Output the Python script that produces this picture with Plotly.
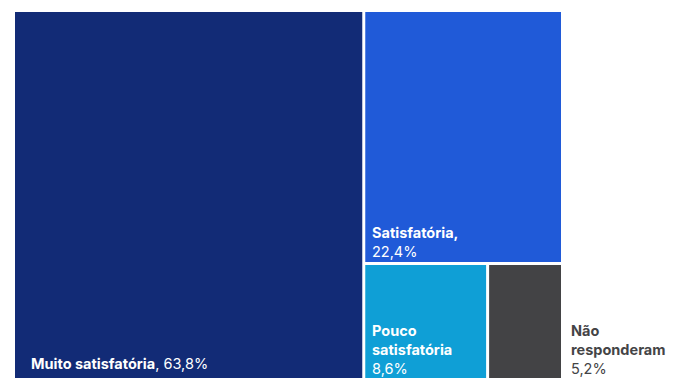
import plotly.graph_objects as go

# Satisfação — participação de cada resposta (%)
categorias = ["Muito satisfatória", "Satisfatória", "Pouco satisfatória", "Não responderam"]
percentuais = [63.8, 22.4, 8.6, 5.2]
cores = ["#122B76", "#205AD8", "#0F9FD6", "#434345"]

# Canvas: the treemap runs past the bottom edge of the visible page
W, H = 675, 420
ML, MR, MT, MB = 15, 114, 12, 2
PW, PH = W - ML - MR, H - MT - MB

FONT = "Inter"


def pct(v):
    return f"{v:.1f}".replace(".", ",") + "%"


def px_x(px):
    return (px - ML) / PW


def px_y(py):
    return (H - MB - py) / PH


fig = go.Figure(
    go.Treemap(
        labels=categorias,
        parents=[""] * len(categorias),
        values=percentuais,
        sort=True,
        marker=dict(
            colors=cores,
            line=dict(color="white", width=0),
            pad=dict(t=0, l=0, r=0, b=0),
        ),
        tiling=dict(packing="squarify", squarifyratio=1),
        pathbar=dict(visible=False),
        textinfo="none",
        hoverinfo="skip",
    )
)

# Labels: bold category name followed by the percentage
textos = [
    f"<b>{categorias[0]}</b>, {pct(percentuais[0])}",
    f"<b>{categorias[1]},</b><br>{pct(percentuais[1])}",
    f"<b>{categorias[2].replace(' ', '<br>')}</b><br>{pct(percentuais[2])}",
    f"<b>{categorias[3].replace(' ', '<br>')}</b><br>{pct(percentuais[3])}",
]
posicoes = [(29, 374), (370, 262), (370, 379), (569, 379)]
cores_texto = ["white", "white", "white", "#444446"]

for txt, (x, y), c in zip(textos, posicoes, cores_texto):
    fig.add_annotation(
        text=txt,
        x=px_x(x),
        y=px_y(y),
        xref="paper",
        yref="paper",
        xanchor="left",
        yanchor="bottom",
        align="left",
        showarrow=False,
        font=dict(family=FONT, size=14.5, color=c),
    )

fig.update_layout(
    width=W,
    height=H,
    margin=dict(l=ML, r=MR, t=MT, b=MB),
    paper_bgcolor="white",
    plot_bgcolor="white",
    font=dict(family=FONT),
    showlegend=False,
)

fig.write_html(
    "out.html",
    post_script="document.body.style.overflow='hidden';document.body.style.margin='0';",
)
